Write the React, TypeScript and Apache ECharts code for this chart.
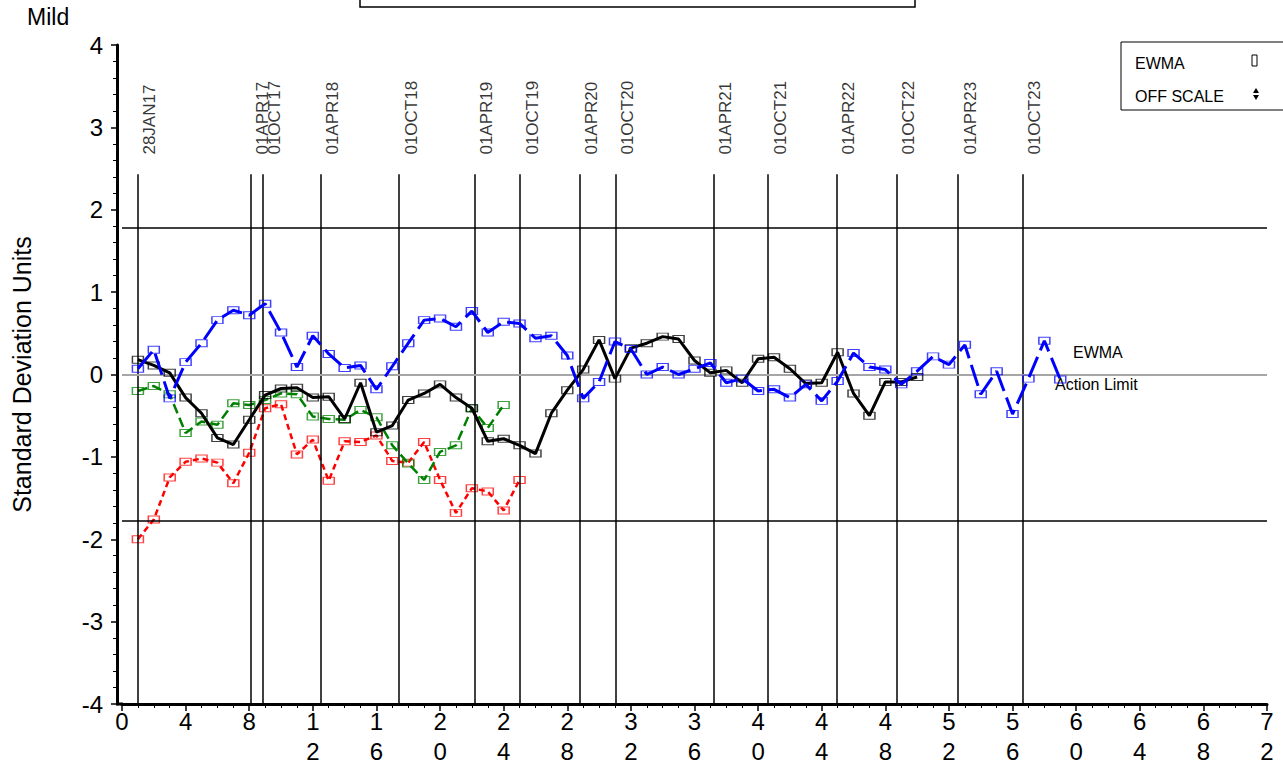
import React, { useEffect, useRef } from "react";
import * as echarts from "echarts";

const FONT = '"Liberation Sans", Arial, sans-serif';

// series values, x = 1, 2, 3, ...
const blueValues = [0.07, 0.30, -0.29, 0.15, 0.38, 0.66, 0.78, 0.72, 0.86, 0.51, 0.09, 0.47, 0.25, 0.08, 0.11, -0.18, 0.10, 0.38, 0.66, 0.68, 0.58, 0.77, 0.51, 0.64, 0.62, 0.44, 0.47, 0.23, -0.29, -0.09, 0.40, 0.31, 0.00, 0.09, 0.00, 0.07, 0.14, -0.10, -0.05, -0.20, -0.18, -0.28, -0.12, -0.32, -0.08, 0.26, 0.09, 0.06, -0.12, 0.04, 0.22, 0.12, 0.36, -0.24, 0.04, -0.48, -0.05, 0.41, -0.06];
const blackValues = [0.18, 0.11, 0.02, -0.28, -0.47, -0.77, -0.85, -0.55, -0.25, -0.17, -0.16, -0.28, -0.27, -0.54, -0.10, -0.70, -0.62, -0.31, -0.23, -0.12, -0.28, -0.41, -0.81, -0.78, -0.86, -0.96, -0.47, -0.19, 0.06, 0.42, -0.05, 0.32, 0.38, 0.46, 0.43, 0.17, 0.02, 0.05, -0.10, 0.19, 0.21, 0.07, -0.11, -0.10, 0.27, -0.23, -0.50, -0.09, -0.09, -0.03];
const greenValues = [-0.20, -0.14, -0.24, -0.71, -0.57, -0.61, -0.35, -0.37, -0.31, -0.23, -0.24, -0.51, -0.54, -0.55, -0.43, -0.52, -0.86, -1.08, -1.28, -0.94, -0.86, -0.41, -0.65, -0.37];
const redValues = [-2.00, -1.76, -1.25, -1.06, -1.02, -1.07, -1.32, -0.95, -0.41, -0.36, -0.97, -0.79, -1.29, -0.81, -0.82, -0.74, -1.05, -1.07, -0.82, -1.28, -1.68, -1.38, -1.42, -1.65, -1.28];

// reference date lines
const dateLabels = ["28JAN17", "01APR17", "01OCT17", "01APR18", "01OCT18", "01APR19", "01OCT19", "01APR20", "01OCT20", "01APR21", "01OCT21", "01APR22", "01OCT22", "01APR23", "01OCT23"];
const datePositions = [1, 8.08, 8.83, 12.5, 17.42, 22.18, 25.03, 28.79, 31.05, 37.21, 40.63, 44.93, 48.7, 52.58, 56.63];
const dateLineTop = 2.43;
const dateLabelY = 2.67;

const actionLimit = 1.78;
const centerLine = 0;

const toXY = (vals: number[]) => vals.map((v, i) => [i + 1, v]);

const markerStyle = (color: string) => ({
  color: "rgba(255,255,255,0)",
  borderColor: color,
  borderWidth: 1.2,
  opacity: 0.75,
});

export default function App() {
  const ref = useRef<HTMLDivElement>(null);
  useEffect(() => {
    if (!ref.current) return;
    const chart = echarts.init(ref.current, null, { renderer: "svg" });
    const mkLine = (name: string, vals: number[], color: string, width: number, type: any, z: number) => ({
      name,
      type: "line",
      data: toXY(vals),
      z,
      symbol: "rect",
      symbolSize: [11, 7],
      showSymbol: true,
      lineStyle: { color, width, type },
      itemStyle: markerStyle(color),
      silent: true,
    });
    chart.setOption({
      animation: false,
      backgroundColor: "#ffffff",
      textStyle: { fontFamily: FONT },
      grid: { left: 122, right: 16, top: 45, bottom: 67, containLabel: false, outerBoundsMode: "none" },
      xAxis: {
        type: "value",
        min: 0,
        max: 72,
        interval: 4,
        axisLine: { show: true, onZero: false, lineStyle: { color: "#000", width: 3 } },
        axisTick: { show: true, length: 7, lineStyle: { color: "#000", width: 1.5 } },
        minorTick: { show: true, splitNumber: 4, length: 4, lineStyle: { color: "#000", width: 1 } },
        splitLine: { show: false },
        axisLabel: {
          color: "#000",
          fontSize: 24,
          fontFamily: FONT,
          margin: 5,
          formatter: (v: number) => {
            const s = String(v);
            if (s.length === 1) return `{a|${s}}`;
            return `{a|${s[0]}}\n{b|${s[1]}}`;
          },
          rich: {
            a: { fontSize: 24, fontFamily: FONT, color: "#000", lineHeight: 24 },
            b: { fontSize: 24, fontFamily: FONT, color: "#000", lineHeight: 24, padding: [12, 0, 0, 0] },
          },
        },
      },
      yAxis: {
        type: "value",
        min: -4,
        max: 4,
        interval: 1,
        offset: 5,
        name: "Standard Deviation Units",
        nameLocation: "middle",
        nameGap: 83,
        nameTextStyle: { color: "#000", fontSize: 25, fontFamily: FONT },
        axisLine: { show: true, onZero: false, lineStyle: { color: "#000", width: 3 } },
        axisTick: { show: true, length: 6, lineStyle: { color: "#000", width: 1.5 } },
        minorTick: { show: true, splitNumber: 5, length: 4, lineStyle: { color: "#000", width: 1 } },
        splitLine: { show: false },
        axisLabel: { color: "#000", fontSize: 24, fontFamily: FONT, margin: 14 },
      },
      series: [
        {
          name: "refs",
          type: "scatter",
          z: 1,
          symbolSize: 0,
          silent: true,
          data: dateLabels.map((n, i) => ({ name: n, value: [datePositions[i], dateLabelY] })),
          label: {
            show: true,
            formatter: "{b}",
            position: "right",
            distance: 12,
            rotate: 90,
            color: "#000",
            fontSize: 17,
            fontFamily: FONT,
          },
          markLine: {
            silent: true,
            symbol: "none",
            label: { show: false },
            lineStyle: { color: "#000", width: 1.5, type: "solid" },
            data: [
              ...datePositions.map((p) => [
                { coord: [p, -4] },
                { coord: [p, dateLineTop] },
              ]),
              { yAxis: centerLine, lineStyle: { color: "#a6a6a6", width: 2, type: "solid" } },
              { yAxis: actionLimit, lineStyle: { color: "#000", width: 1.5, type: "solid" } },
              { yAxis: -actionLimit, lineStyle: { color: "#000", width: 1.5, type: "solid" } },
            ],
          },
        },
        mkLine("Red", redValues, "#ff0000", 2.5, [6, 4], 3),
        mkLine("Green", greenValues, "#008000", 2.5, [10, 5], 4),
        mkLine("Black", blackValues, "#000000", 3, "solid", 5),
        mkLine("EWMA", blueValues, "#0000ff", 3, [22, 7], 6),
      ],
      graphic: [
        { type: "text", left: 27, top: 5, style: { text: "Mild", fontSize: 23, fontFamily: FONT, fill: "#000" } },
        { type: "rect", shape: { x: 360, y: -12, width: 555, height: 19 }, style: { fill: "none", stroke: "#000", lineWidth: 1.5 } },
        { type: "rect", shape: { x: 1121, y: 42, width: 170, height: 68 }, style: { fill: "#fff", stroke: "#000", lineWidth: 1 } },
        { type: "text", x: 1135, y: 63, style: { text: "EWMA", fontSize: 16, fontFamily: FONT, fill: "#000", verticalAlign: "middle" } },
        { type: "text", x: 1135, y: 96, style: { text: "OFF SCALE", fontSize: 16, fontFamily: FONT, fill: "#000", verticalAlign: "middle" } },
        { type: "rect", shape: { x: 1252, y: 55, width: 5, height: 11 }, style: { fill: "none", stroke: "#000", lineWidth: 1 } },
        { type: "polygon", shape: { points: [[1256, 88], [1259, 93], [1253, 93]] }, style: { fill: "#000" } },
        { type: "polygon", shape: { points: [[1256, 100], [1259, 95], [1253, 95]] }, style: { fill: "#000" } },
        { type: "text", x: 1073, y: 352, style: { text: "EWMA", fontSize: 16, fontFamily: FONT, fill: "#000", verticalAlign: "middle" } },
        { type: "text", x: 1055, y: 384, style: { text: "Action Limit", fontSize: 16, fontFamily: FONT, fill: "#000", verticalAlign: "middle" } },
        { type: "line", shape: { x1: 116, y1: 704, x2: 123, y2: 704 }, style: { stroke: "#000", lineWidth: 3 } },
      ],
    });
    return () => chart.dispose();
  }, []);
  return <div ref={ref} style={{ position: "fixed", left: 0, top: 0, width: 1283, height: 771 }} />;
}
